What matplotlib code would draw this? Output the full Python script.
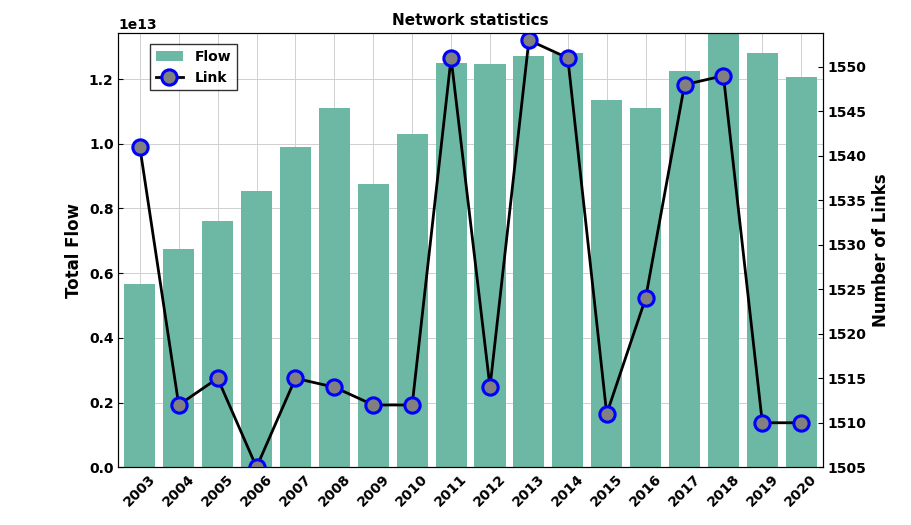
import matplotlib.pyplot as plt
import numpy as np

years = list(range(2003, 2021))
flow = [5.65, 6.75, 7.6, 8.55, 9.9, 11.1, 8.75, 10.3, 12.5, 12.45,
        12.7, 12.8, 11.35, 11.1, 12.25, 13.5, 12.8, 12.05]
links = [1541, 1512, 1515, 1505, 1515, 1514, 1512, 1512, 1551, 1514,
         1553, 1551, 1511, 1524, 1548, 1549, 1510, 1510]

plt.rcParams['font.family'] = 'DejaVu Sans'
plt.rcParams['font.weight'] = 'bold'
fig = plt.figure(figsize=(9.11, 5.25), dpi=100)
ax = fig.add_axes([0.13, 0.11, 0.773, 0.827])
b = ax.bar(years, np.array(flow) * 1e12, width=0.8, color='#6db8a4', label='Flow')
ax.set_xlim(2002.45, 2020.55)
ax.set_ylim(0, 13.42e12)
ax.set_ylabel('Total Flow', fontsize=12, fontweight='bold')
ax.set_xticks(years)
ax.set_xticklabels([str(y) for y in years], rotation=45, fontsize=10, fontweight='bold')
ax.tick_params(labelsize=10, direction='in')
ax.grid(True, color='#d0d0d0', linewidth=0.7)
ax.set_axisbelow(True)
ax.set_title('Network statistics', fontsize=11, fontweight='bold')

ax2 = ax.twinx()
l, = ax2.plot(years, links, color='black', linewidth=2, marker='o', markersize=11,
              markerfacecolor='#808080', markeredgecolor='#0000ff', markeredgewidth=2.2,
              label='Link')
ax2.set_ylim(1505, 1553.8)
ax2.set_yticks(range(1505, 1551, 5))
ax2.set_ylabel('Number of Links', fontsize=12, fontweight='bold')
ax2.tick_params(labelsize=10, direction='in')
ax2.set_zorder(ax.get_zorder() + 1)
ax2.patch.set_visible(False)

ax2.legend([b, l], ['Flow', 'Link'], loc='upper left', bbox_to_anchor=(0.035, 0.99),
           fontsize=10, frameon=True, fancybox=False, edgecolor='black')

fig.savefig('out.png')
